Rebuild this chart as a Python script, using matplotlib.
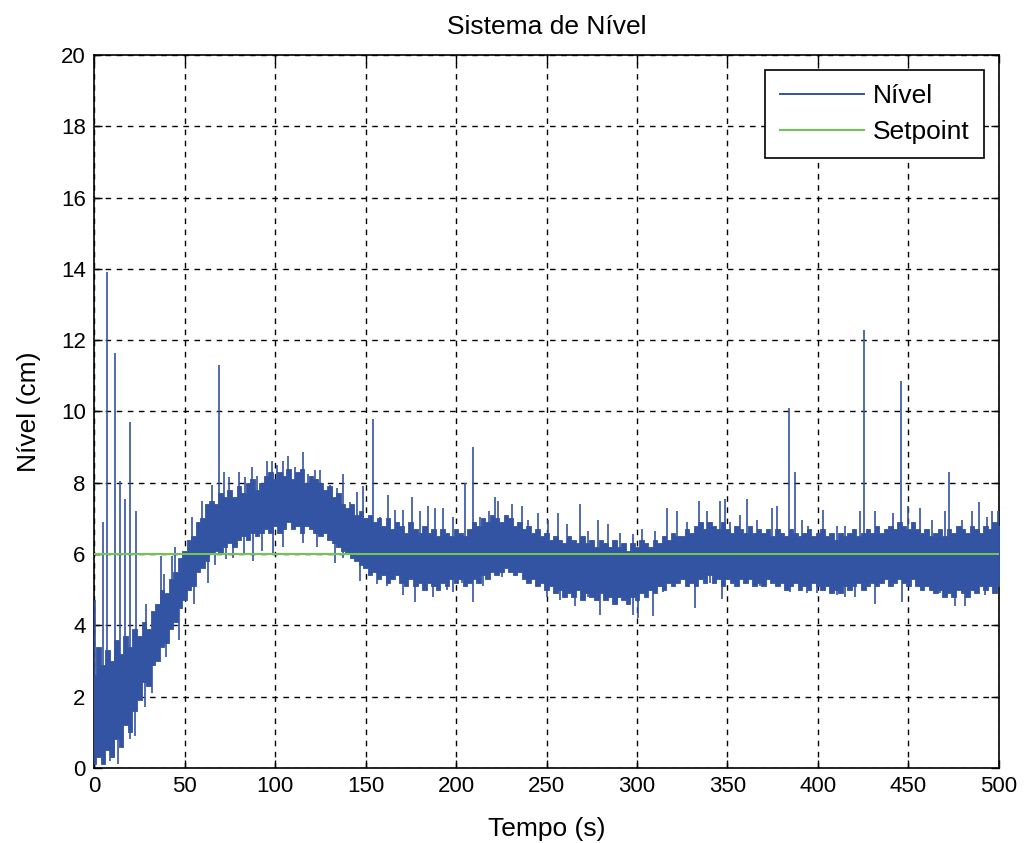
import numpy as np
import matplotlib
matplotlib.use("Agg")
import matplotlib.pyplot as plt
from matplotlib.lines import Line2D

plt.rcParams['font.family'] = ['Liberation Sans Narrow', 'Liberation Sans', 'DejaVu Sans']

# Dense body of the level signal, sampled every 2.5 s: lower / upper edge (cm)
core_t = np.arange(0, 500.1, 2.5)
core_hi = [2.6, 3.4, 2.9, 3.3, 3.0, 3.6, 3.2, 3.7, 3.4, 3.9,
           3.7, 4.1, 3.9, 4.4, 4.6, 5.0, 4.9, 5.3, 5.5, 5.9,
           6.1, 6.4, 6.5, 6.9, 7.0, 7.4, 7.5, 7.4, 7.7, 7.6,
           7.8, 7.6, 7.9, 7.7, 8.0, 8.1, 7.8, 8.0, 8.2, 8.3,
           8.1, 8.3, 8.2, 8.4, 8.1, 8.3, 8.4, 8.0, 8.2, 8.1,
           8.0, 7.8, 7.9, 7.6, 7.7, 7.4, 7.3, 7.4, 7.1, 7.2,
           7.0, 7.1, 6.9, 7.0, 6.8, 7.0, 6.7, 6.9, 6.8, 6.6,
           6.9, 6.7, 6.6, 6.8, 6.6, 6.7, 6.5, 6.7, 6.6, 6.5,
           6.7, 6.6, 6.5, 6.7, 6.9, 6.8, 7.0, 6.9, 7.1, 7.0,
           6.9, 7.1, 7.0, 6.8, 6.9, 6.7, 6.8, 6.6, 6.7, 6.5,
           6.6, 6.4, 6.5, 6.4, 6.3, 6.5, 6.4, 6.3, 6.5, 6.3,
           6.4, 6.2, 6.4, 6.3, 6.2, 6.4, 6.2, 6.3, 6.1, 6.3,
           6.2, 6.4, 6.3, 6.2, 6.4, 6.3, 6.5, 6.4, 6.6, 6.5,
           6.5, 6.7, 6.6, 6.8, 6.9, 6.7, 6.9, 6.8, 6.7, 6.9,
           6.7, 6.6, 6.8, 6.7, 6.6, 6.8, 6.6, 6.7, 6.6, 6.7,
           6.5, 6.7, 6.6, 6.5, 6.7, 6.6, 6.5, 6.6, 6.7, 6.5,
           6.6, 6.7, 6.5, 6.6, 6.4, 6.6, 6.5, 6.6, 6.7, 6.5,
           6.6, 6.7, 6.6, 6.8, 6.6, 6.7, 6.8, 6.7, 6.9, 6.8,
           6.7, 6.9, 6.7, 6.6, 6.7, 6.5, 6.6, 6.7, 6.5, 6.7,
           6.6, 6.8, 6.7, 6.6, 6.8, 6.7, 6.6, 6.8, 6.7, 6.9,
           6.8]
core_lo = [0.1, 0.3, 0.1, 0.5, 0.3, 0.8, 0.6, 1.2, 1.0, 1.6,
           1.9, 2.4, 2.3, 2.9, 3.0, 3.4, 3.5, 3.9, 4.1, 4.5,
           4.7, 5.0, 5.1, 5.5, 5.6, 5.8, 6.0, 6.1, 6.0, 6.2,
           6.3, 6.2, 6.4, 6.5, 6.4, 6.6, 6.5, 6.6, 6.7, 6.6,
           6.8, 6.6, 6.7, 6.9, 6.7, 6.8, 6.6, 6.8, 6.7, 6.6,
           6.5, 6.6, 6.4, 6.3, 6.2, 6.1, 6.0, 5.9, 5.8, 5.7,
           5.6, 5.4, 5.5, 5.3, 5.4, 5.2, 5.3, 5.4, 5.2, 5.1,
           5.3, 5.1, 5.2, 5.0, 5.2, 5.1, 5.0, 5.2, 5.1, 5.3,
           5.2, 5.3, 5.1, 5.2, 5.3, 5.2, 5.4, 5.3, 5.5, 5.4,
           5.5, 5.6, 5.5, 5.4, 5.5, 5.3, 5.2, 5.3, 5.1, 5.2,
           5.0, 5.1, 4.9, 5.0, 4.8, 4.9, 4.8, 5.0, 4.7, 4.9,
           4.8, 4.7, 4.9, 4.7, 4.8, 4.6, 4.8, 4.7, 4.6, 4.8,
           4.7, 4.9, 4.8, 5.0, 4.9, 5.1, 5.0, 5.2, 5.1, 5.2,
           5.3, 5.1, 5.2, 5.1, 5.3, 5.2, 5.4, 5.2, 5.3, 5.1,
           5.3, 5.2, 5.1, 5.3, 5.2, 5.3, 5.1, 5.2, 5.1, 5.3,
           5.2, 5.1, 5.2, 5.0, 5.1, 5.2, 5.0, 5.1, 5.0, 5.2,
           5.1, 5.0, 5.1, 4.9, 5.0, 4.9, 5.1, 5.0, 5.1, 5.2,
           5.0, 5.1, 5.2, 5.1, 5.2, 5.3, 5.1, 5.2, 5.3, 5.2,
           5.1, 5.3, 5.1, 5.0, 5.1, 5.0, 4.9, 5.0, 4.8, 4.9,
           4.8, 5.0, 4.9, 4.8, 5.0, 4.9, 5.1, 5.0, 5.1, 4.9,
           5.1]

# Upward excursions of the signal (time s, peak level cm)
up_t = [0.5, 5.2, 7.0, 11.6, 14.4, 17.1, 19.9, 23.0, 28.5, 37.0, 38.7, 43.3, 45.0,
        54.1, 59.6, 65.0, 69.0, 71.6, 74.4, 79.9, 83.5, 87.2, 90.0, 95.5, 98.1,
        100.9, 104.6, 107.4, 111.1, 115.3, 118.4, 122.1, 124.9, 130.4, 134.1,
        137.7, 141.5, 145.1, 148.8, 154.3, 158.0, 162.6, 166.3, 170.9, 175.5,
        180.1, 184.7, 188.4, 193.0, 198.5, 205.0, 209.5, 213.3, 218.0, 221.5,
        223.4, 230.8, 236.3, 240.0, 245.5, 251.0, 256.5, 261.2, 268.5, 273.1,
        278.7, 284.2, 290.6, 298.0, 302.6, 310.0, 316.8, 321.9, 327.4, 334.4,
        338.5, 345.9, 348.6, 351.4, 356.9, 360.9, 366.1, 374.4, 377.1, 384.1,
        387.3, 391.0, 394.6, 403.0, 410.3, 414.9, 423.2, 425.4, 431.5, 441.6,
        445.9, 449.9, 456.4, 462.8, 470.2, 472.6, 479.4, 485.0, 488.7, 493.3,
        496.0, 499.5]
up_v = [4.7, 6.9, 13.9, 11.65, 8.05, 7.55, 9.7, 7.2, 4.6, 5.95, 5.45, 5.95, 6.2,
        7.05, 7.5, 7.95, 11.3, 8.3, 8.15, 8.3, 8.15, 8.45, 8.2, 8.6, 8.6,
        8.5, 8.6, 8.75, 8.45, 8.85, 8.25, 8.35, 8.35, 7.95, 7.85,
        8.25, 7.45, 7.75, 7.9, 9.8, 7.05, 7.65, 7.25, 7.25, 7.6,
        7.2, 7.35, 7.3, 7.3, 7.05, 8.0, 9.0, 7.05, 7.2, 7.6,
        7.5, 7.4, 7.35, 6.95, 7.15, 6.95, 7.15, 6.85, 7.4, 6.65,
        6.95, 6.85, 6.6, 6.55, 6.7, 6.65, 7.3, 7.2, 6.9, 7.5,
        7.2, 7.5, 7.55, 6.9, 7.1, 7.55, 6.95, 7.3, 7.35, 10.1,
        8.3, 6.95, 6.8, 7.25, 6.8, 6.8, 7.2, 12.3, 7.2, 7.15,
        10.85, 7.35, 7.3, 6.95, 7.2, 8.3, 6.95, 7.2, 7.45, 7.05,
        7.2, 7.2]

# Downward excursions of the signal (time s, lowest level cm)
dn_t = [8.9, 11.0, 13.0, 20.0, 22.8, 28.0, 32.0, 40.0, 47.0, 55.0, 63.0, 67.0,
        73.0, 77.0, 83.0, 88.0, 93.0, 99.0, 104.6, 115.7, 123.0, 133.2, 137.8,
        147.0, 156.1, 161.7, 166.3, 170.9, 177.3, 183.8, 187.5, 194.9, 198.5,
        203.1, 209.6, 215.1, 225.2, 233.5, 240.9, 250.1, 257.5, 265.8, 273.1,
        279.6, 288.8, 298.0, 300.5, 308.6, 314.5, 325.6, 332.0, 340.3, 346.8,
        355.1, 362.4, 368.0, 376.2, 384.5, 393.7, 399.2, 410.3, 414.9, 420.4,
        431.5, 446.2, 451.7, 467.4, 475.7, 481.2, 492.3, 497.8]
dn_v = [0.2, 0.3, 0.1, 0.8, 0.9, 1.7, 2.1, 3.1, 3.6, 4.6, 5.2, 5.7,
        5.85, 5.9, 6.0, 5.8, 6.1, 6.0, 6.2, 6.3, 6.2, 5.75, 5.9,
        5.25, 5.15, 5.1, 5.45, 4.85, 4.65, 5.25, 4.8, 5.0, 4.95,
        5.2, 4.65, 5.1, 5.35, 5.5, 5.25, 4.8, 4.7, 4.55, 4.8,
        4.3, 4.6, 4.3, 4.2, 4.25, 4.95, 5.55, 4.5, 5.2, 4.75,
        5.2, 5.35, 5.1, 5.35, 4.95, 4.9, 4.9, 4.85, 4.8, 4.8,
        4.6, 4.65, 5.55, 4.9, 4.55, 4.55, 4.85, 5.1]

setpoint = 6.0
t_end = 500

blue = '#3353A3'
green = '#72C552'

fig = plt.figure(figsize=(10.26, 8.43), dpi=100)
ax = fig.add_axes([94 / 1026, 75 / 843, 905 / 1026, 713 / 843])

mid = (np.array(core_lo) + np.array(core_hi)) / 2
ax.fill_between(core_t, core_lo, core_hi, step='mid', color=blue, lw=0.6,
                ec=blue, zorder=3)
ax.vlines(up_t, np.interp(up_t, core_t, mid), up_v, color=blue, lw=1.2, zorder=3)
ax.vlines(dn_t, dn_v, np.interp(dn_t, core_t, mid), color=blue, lw=1.2, zorder=3)
ax.plot([0, t_end], [setpoint, setpoint], color=green, lw=1.5, zorder=4)

ax.set_xlim(0, 500)
ax.set_ylim(0, 20)
ax.set_xticks(np.arange(0, 501, 50))
ax.set_yticks(np.arange(0, 21, 2))
ax.grid(True, color='black', linestyle=(0, (4, 4)), lw=1.0)
ax.set_axisbelow(True)
ax.tick_params(direction='in', top=True, right=True, length=6, width=1,
               labelsize=16, pad=6)
for s in ax.spines.values():
    s.set_linewidth(1.2)

ax.set_title('Sistema de Nível', fontsize=19, pad=15)
ax.set_xlabel('Tempo (s)', fontsize=19, labelpad=14)
ax.set_ylabel('Nível (cm)', fontsize=19, labelpad=14)

handles = [Line2D([], [], color=blue, lw=1.4), Line2D([], [], color=green, lw=1.5)]
leg = ax.legend(handles, ['Nível', 'Setpoint'], loc='upper right', fontsize=19,
                handlelength=3.2, handletextpad=0.35, fancybox=False,
                edgecolor='black', framealpha=1, borderaxespad=0.55,
                labelspacing=0.45, borderpad=0.55)
leg.get_frame().set_linewidth(1.2)

fig.savefig('out.png', dpi=100)
